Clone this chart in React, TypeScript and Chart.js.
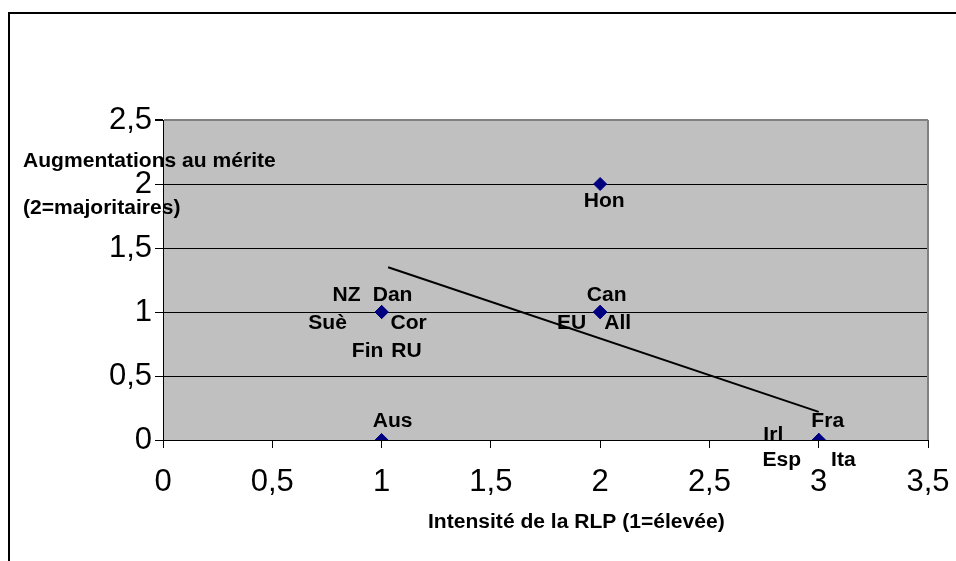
import React, { useEffect, useRef } from "react";
import { Chart, registerables } from "chart.js";

Chart.register(...registerables);

// ---- data ----
const countries = ["NZ", "Dan", "Suè", "Cor", "Fin", "RU", "Aus", "Hon", "Can", "EU", "All", "Fra", "Irl", "Esp", "Ita"];
const rlpIntensity = [1, 1, 1, 1, 1, 1, 1, 2, 2, 2, 2, 3, 3, 3, 3];
const meritRaises = [1, 1, 1, 1, 1, 1, 0, 2, 1, 1, 1, 0, 0, 0, 0];
const trendX = [1.03, 3];
const trendY = [1.35, 0.22];
const xTickValues = [0, 0.5, 1, 1.5, 2, 2.5, 3, 3.5];
const yTickValues = [0, 0.5, 1, 1.5, 2, 2.5];
const xTitle = "Intensité de la RLP (1=élevée)";
const yTitleLines = ["Augmentations au mérite", "(2=majoritaires)"];

// ---- label placement (pixel offsets from point, cap-centre) ----
const labelOffsets: [number, number][] = [
  [-35, -18], [11, -18], [-54, 10], [27, 10], [-14, 38], [25, 38],
  [11, -20], [4, 16], [6.5, -18], [-28.5, 10], [17.5, 10],
  [9, -20], [-45.4, -6], [-37, 19], [24.6, 19],
];

const FONT = '"Liberation Sans", Arial, sans-serif';
const LBL_SIZE = 19.5;
const STRETCH = 1.08;

function drawText(ctx: CanvasRenderingContext2D, text: string, x: number, capCenterY: number, align: CanvasTextAlign) {
  ctx.save();
  ctx.font = `bold ${LBL_SIZE}px ${FONT}`;
  ctx.fillStyle = "#000";
  ctx.textAlign = align;
  ctx.textBaseline = "alphabetic";
  ctx.translate(x, capCenterY + 0.358 * LBL_SIZE);
  ctx.scale(STRETCH, 1);
  ctx.fillText(text, 0, 0);
  ctx.restore();
}

const fmt = (v: number) => String(v).replace(".", ",");

export default function App() {
  const ref = useRef<HTMLCanvasElement>(null);
  useEffect(() => {
    if (!ref.current) return;
    const bgPlugin = {
      id: "bgPlugin",
      beforeDraw(chart: any) {
        const { ctx, chartArea: a } = chart;
        ctx.save();
        ctx.fillStyle = "#C0C0C0";
        ctx.fillRect(a.left, a.top, a.right - a.left, a.bottom - a.top);
        ctx.restore();
      },
      afterDatasetsDraw(chart: any) {
        const { ctx, chartArea: a } = chart;
        // right border of plot area
        ctx.save();
        ctx.strokeStyle = "#808080";
        ctx.lineWidth = 2;
        ctx.beginPath();
        ctx.moveTo(a.right, a.top);
        ctx.lineTo(a.right, a.bottom);
        ctx.stroke();
        ctx.restore();
        // point labels
        const meta = chart.getDatasetMeta(0);
        meta.data.forEach((el: any, i: number) => {
          const off = labelOffsets[i] || [0, 0];
          drawText(ctx, countries[i], el.x + off[0], el.y + off[1], "center");
        });
      },
      afterDraw(chart: any) {
        const { ctx } = chart;
        // axis titles
        drawText(ctx, yTitleLines[0], 23, 160.5, "left");
        drawText(ctx, yTitleLines[1], 23, 207, "left");
        drawText(ctx, xTitle, 428, 521.5, "left");
        // outer frame
        ctx.save();
        ctx.strokeStyle = "#000";
        ctx.lineWidth = 2;
        ctx.beginPath();
        ctx.moveTo(9, chart.height + 5);
        ctx.lineTo(9, 13);
        ctx.lineTo(chart.width + 5, 13);
        ctx.stroke();
        ctx.restore();
      },
    };

    const chart = new Chart(ref.current, {
      type: "scatter",
      data: {
        datasets: [
          {
            data: rlpIntensity.map((x, i) => ({ x, y: meritRaises[i] })),
            pointStyle: "rectRot",
            pointRadius: 6.5,
            backgroundColor: "#000080",
            borderColor: "#000080",
            borderWidth: 1,
          },
          {
            data: trendX.map((x, i) => ({ x, y: trendY[i] })),
            showLine: true,
            borderColor: "#000",
            borderWidth: 2,
            pointRadius: 0,
          },
        ],
      },
      options: {
        animation: false,
        responsive: true,
        maintainAspectRatio: false,
        layout: { padding: { top: 120, right: 28, bottom: 0, left: 0 } },
        plugins: { legend: { display: false }, tooltip: { enabled: false } },
        scales: {
          x: {
            type: "linear",
            min: 0,
            max: 3.5,
            afterBuildTicks: (s: any) => { s.ticks = xTickValues.map((v) => ({ value: v })); },
            afterFit: (s: any) => { s.height = 121; s.paddingLeft = 0; s.paddingRight = 0; },
            ticks: {
              callback: (v: any) => fmt(Number(v)),
              font: { family: FONT, size: 31 },
              color: "#000",
              padding: 16,
              maxRotation: 0,
              autoSkip: false,
            },
            grid: { drawOnChartArea: false, drawTicks: true, tickLength: 8, color: "#000", tickColor: "#000" },
            border: { color: "#000", width: 1 },
          },
          y: {
            type: "linear",
            min: 0,
            max: 2.5,
            afterBuildTicks: (s: any) => { s.ticks = yTickValues.map((v) => ({ value: v })); },
            afterFit: (s: any) => { s.width = 163; s.paddingTop = 0; s.paddingBottom = 0; },
            ticks: {
              callback: (v: any) => fmt(Number(v)),
              font: { family: FONT, size: 31 },
              color: "#000",
              padding: 3,
              autoSkip: false,
            },
            grid: {
              color: (c: any) => (c.tick && c.tick.value === 2.5 ? "#808080" : "#000"),
              lineWidth: (c: any) => (c.tick && c.tick.value === 2.5 ? 2 : 1),
              tickLength: 8,
              tickColor: "#000",
            },
            border: { color: "#000", width: 1 },
          },
        },
      },
      plugins: [bgPlugin],
    } as any);
    return () => chart.destroy();
  }, []);

  return (
    <div style={{ position: "absolute", left: 0, top: 0, width: 956, height: 561, background: "#fff" }}>
      <canvas ref={ref} />
    </div>
  );
}
